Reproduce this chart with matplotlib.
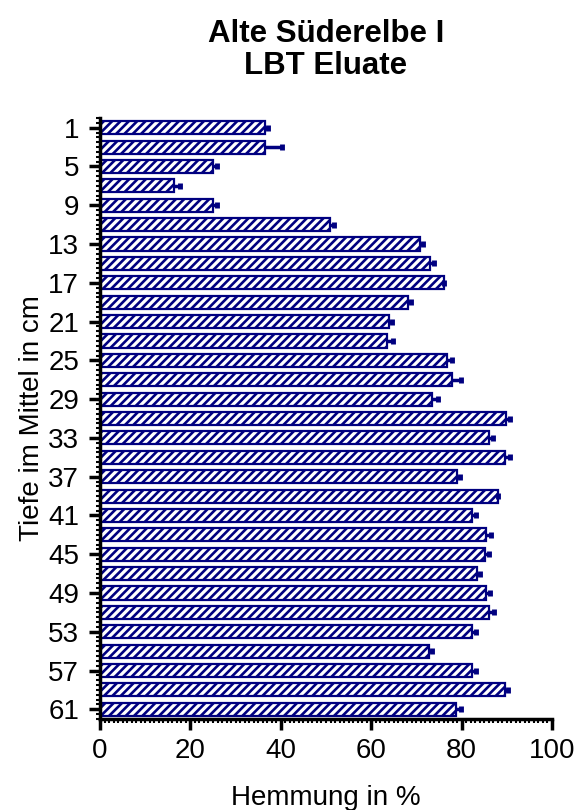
import matplotlib
matplotlib.use("Agg")
import matplotlib.pyplot as plt
import numpy as np
from matplotlib.ticker import MultipleLocator, FixedLocator

plt.rcParams['font.family'] = ['Liberation Sans', 'DejaVu Sans']
plt.rcParams['hatch.linewidth'] = 1.9
plt.rcParams['hatch.color'] = '#000080'

# depth (cm, mid of slice), inhibition (%), SD
depth = [1, 3, 5, 7, 9, 11, 13, 15, 17, 19, 21, 23, 25, 27, 29, 31,
         33, 35, 37, 39, 41, 43, 45, 47, 49, 51, 53, 55, 57, 59, 61]
hemmung = [36.5, 36.6, 25.1, 16.4, 24.9, 50.9, 70.8, 73.0, 76.2, 68.2, 64.0,
           63.6, 76.8, 77.9, 73.4, 89.8, 86.1, 89.7, 78.9, 88.1, 82.2, 85.3,
           85.2, 83.3, 85.3, 86.1, 82.4, 72.7, 82.2, 89.7, 78.8]
sd = [0.7, 3.6, 0.8, 1.4, 1.0, 0.8, 0.6, 1.0, 0.0, 0.7, 0.6, 1.3, 1.1, 1.9,
      1.3, 0.8, 0.9, 0.9, 0.7, 0.0, 0.9, 1.1, 0.9, 0.8, 1.0, 1.1, 0.8, 0.7,
      0.9, 0.6, 1.0]
ytick_labels = [1, 5, 9, 13, 17, 21, 25, 29, 33, 37, 41, 45, 49, 53, 57, 61]

navy = '#000080'

fig = plt.figure(figsize=(5.77, 8.10), dpi=100)
ax = fig.add_axes([0.1733, 0.1123, 0.7834, 0.7420])

ax.barh(depth, hemmung, height=1.35, color='white', edgecolor=navy,
        linewidth=1.6, hatch='////', zorder=2)
sd_arr = np.array(sd)
eb = ax.errorbar(hemmung, depth, xerr=[np.zeros_like(sd_arr), sd_arr],
                 fmt='none', ecolor=navy, elinewidth=2.5, capsize=2.5,
                 capthick=3.5, zorder=3)
# only the upper (right) cap, like the original
if len(eb[1]) > 1:
    eb[1][0].set_visible(False)

ax.set_xlim(0, 100)
ax.set_ylim(62, 0)

ax.xaxis.set_major_locator(MultipleLocator(20))
ax.xaxis.set_minor_locator(MultipleLocator(1))
ax.yaxis.set_major_locator(FixedLocator(ytick_labels))
ax.yaxis.set_minor_locator(MultipleLocator(0.5))

for s in ['top', 'right']:
    ax.spines[s].set_visible(False)
for s in ['left', 'bottom']:
    ax.spines[s].set_linewidth(2.5)

ax.tick_params(axis='both', which='major', length=8, width=2.5,
               labelsize=20, direction='out')
ax.tick_params(axis='both', which='minor', length=3, width=1.5, direction='out')
ax.tick_params(axis='x', pad=6)
ax.tick_params(axis='y', pad=7)

ax.set_xlabel('Hemmung in %', fontsize=20, labelpad=15)
ax.set_ylabel('Tiefe im Mittel in cm', fontsize=20, labelpad=2)
ax.set_title('Alte Süderelbe I\nLBT Eluate', fontsize=22.5, fontweight='bold',
             pad=32, linespacing=1.05)

fig.savefig('out.png', dpi=100)
